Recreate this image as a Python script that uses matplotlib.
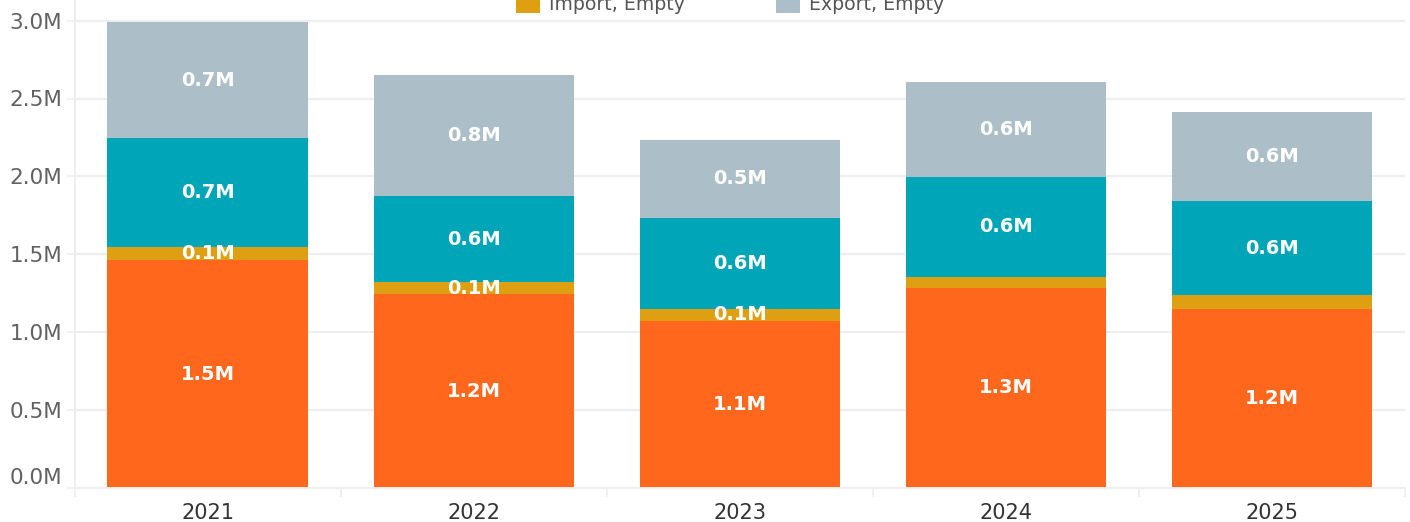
import matplotlib
matplotlib.use("Agg")
import matplotlib.pyplot as plt
from matplotlib.patches import Rectangle
from matplotlib.ticker import FixedLocator, FuncFormatter

plt.rcParams['font.family'] = ['DejaVu Sans']

# ---- data ----
years = ["2021", "2022", "2023", "2024", "2025"]
series_names = ["Import, Loaded", "Import, Empty", "Export, Loaded", "Export, Empty"]
import_loaded = [1.463, 1.245, 1.072, 1.284, 1.152]
import_empty = [0.083, 0.077, 0.077, 0.071, 0.084]
export_loaded = [0.700, 0.552, 0.584, 0.642, 0.608]
export_empty = [0.745, 0.777, 0.501, 0.610, 0.571]
show_labels = [
    [True, True, True, True, True],
    [True, True, True, False, False],
    [True, True, True, True, True],
    [True, True, True, True, True],
]
colors = ["#FF671D", "#DEA012", "#00A6B7", "#ACBFC8"]
yticks = [0.0, 0.5, 1.0, 1.5, 2.0, 2.5, 3.0]

W, H = 1410, 522
fig = plt.figure(figsize=(W / 100, H / 100), dpi=100)
ax = fig.add_axes([74.5 / W, 34 / H, (1405 - 74.5) / W, 488 / H])

series = [import_loaded, import_empty, export_loaded, export_empty]
x = list(range(len(years)))
bottom = [0.0] * len(years)
for s, vals in enumerate(series):
    ax.bar(x, vals, width=0.752, bottom=bottom, color=colors[s], zorder=2, linewidth=0)
    for i, v in enumerate(vals):
        if show_labels[s][i]:
            ax.text(i, bottom[i] + v / 2, f"{v:.1f}M", ha="center", va="center",
                    color="white", fontsize=14, fontweight="bold", zorder=3)
    bottom = [b + v for b, v in zip(bottom, vals)]

ax.set_xlim(-0.5, len(years) - 0.5)
ax.set_ylim(0, 488 / 155.8)

grid_c = "#EEEEEE"
ax.set_axisbelow(True)
ax.yaxis.set_major_locator(FixedLocator(yticks))
ax.yaxis.set_major_formatter(FuncFormatter(lambda v, p: f"{v:.1f}M"))
ax.grid(axis="y", color=grid_c, linewidth=1.6, zorder=0)
ax.tick_params(axis="y", length=6, width=1.2, color=grid_c, pad=3,
               labelsize=15.5, labelcolor="#616161")

ax.set_xticks(x)
ax.set_xticklabels(years)
ax.set_xticks([i - 0.5 for i in range(len(years) + 1)], minor=True)
ax.tick_params(axis="x", which="major", length=0, pad=11, labelsize=15, labelcolor="#333333")
ax.tick_params(axis="x", which="minor", length=6.5, width=1.2, color=grid_c)

for sp in ["top", "right"]:
    ax.spines[sp].set_visible(False)
for sp in ["left", "bottom"]:
    ax.spines[sp].set_color(grid_c)
    ax.spines[sp].set_linewidth(1.4)

fig.canvas.draw()
for lab in ax.get_yticklabels():
    if lab.get_text() == "0.0M":
        lab.set_verticalalignment("bottom")

# ---- legend (2 columns, top row is above the visible canvas) ----
col_x = [516, 776]
row_y = [-26, 2]
for s, name in enumerate(series_names):
    c, r = s // 2, s % 2
    cx, cy = col_x[c], row_y[r]
    fig.add_artist(Rectangle((cx / W, 1 - (cy + 11) / H), 24 / W, 22 / H,
                             transform=fig.transFigure, color=colors[s], linewidth=0))
    fig.text((cx + 33) / W, 1 - (cy + 8) / H, name, ha="left", va="baseline",
             fontsize=13.6, color="#555555")

fig.savefig("out.png", dpi=100)
